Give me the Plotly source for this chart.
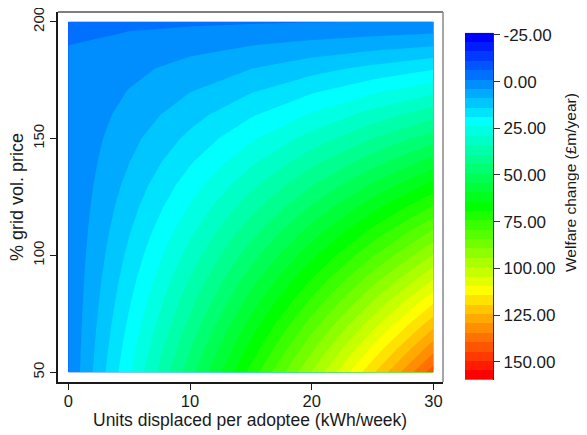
import colorsys
import plotly.graph_objects as go

# ---------------- data ----------------
units = [0, 5, 10, 15, 20, 25, 30]                      # kWh/week displaced per adoptee
price_pct = [50, 60, 70, 80, 90, 100, 110, 120, 130, 140, 150, 160, 170, 180, 190, 200]
# welfare change (£m/year); one row per price_pct value, one column per units value
welfare = [
    [-0.6, 23.3, 47.1, 71.0, 94.8, 118.7, 142.5],   # 50
    [-0.6, 21.7, 43.9, 66.2, 88.4, 110.7, 133.0],   # 60
    [-0.6, 20.1, 40.7, 61.4, 82.1, 102.8, 123.4],   # 70
    [-0.6, 18.5, 37.6, 56.6, 75.7, 94.8, 113.9],    # 80
    [-0.6, 16.9, 34.4, 51.9, 69.4, 86.9, 104.3],    # 90
    [-0.6, 15.3, 31.2, 47.1, 63.0, 78.9, 94.8],     # 100
    [-0.6, 13.7, 28.0, 42.3, 56.6, 71.0, 85.3],     # 110
    [-0.6, 12.1, 24.8, 37.6, 50.3, 63.0, 75.7],     # 120
    [-0.6, 10.5, 21.7, 32.8, 43.9, 55.1, 66.2],     # 130
    [-0.6, 8.9, 18.5, 28.0, 37.6, 47.1, 56.6],      # 140
    [-0.6, 7.4, 15.3, 23.3, 31.2, 39.2, 47.1],      # 150
    [-0.6, 5.8, 12.1, 18.5, 24.8, 31.2, 37.6],      # 160
    [-0.6, 4.2, 8.9, 13.7, 18.5, 23.3, 28.0],       # 170
    [-0.6, 2.6, 5.8, 8.9, 12.1, 15.3, 18.5],        # 180
    [-1.1, 0.6, 2.2, 3.8, 5.4, 7.0, 8.5],           # 190
    [-2.5, -2.2, -1.9, -1.6, -1.3, -1.0, -0.6],     # 200
]
z_low, z_high, n_bands = -26.2, 159.8, 37
cbar_ticks = [-25, 0, 25, 50, 75, 100, 125, 150]
x_ticks = [0, 10, 20, 30]
y_ticks = [50, 100, 150, 200]
x_title = "Units displaced per adoptee (kWh/week)"
y_title = "% grid vol. price"
cbar_title = "Welfare change (£m/year)"

# ---------------- styling ----------------
FONT = "Liberation Sans, Arial, sans-serif"
TXT = "#1a1a1a"
band = (z_high - z_low) / n_bands

def hue_color(i):
    h = (240 - i * 240 / (n_bands - 1)) / 360.0
    r, g, b = colorsys.hsv_to_rgb(h, 1, 1)
    return "rgb(%d,%d,%d)" % (round(r * 255), round(g * 255), round(b * 255))

colorscale = [[i / (n_bands - 1), hue_color(i)] for i in range(n_bands)]

fig = go.Figure()
fig.add_trace(go.Contour(
    x=units, y=price_pct, z=welfare,
    colorscale=colorscale, showscale=False,
    autocontour=False,
    contours=dict(start=z_low + band, end=z_high - band, size=band,
                  coloring="fill", showlines=False),
    line=dict(width=0, smoothing=0),
    hoverinfo="skip",
))

# colour key drawn as a narrow heatmap on its own (reversed) axis
mids = [z_low + (i + 0.5) * band for i in range(n_bands)]
fig.add_trace(go.Heatmap(
    x=[0], y=mids, z=[[m] for m in mids],
    colorscale=colorscale, zmin=mids[0], zmax=mids[-1],
    showscale=False, xaxis="x2", yaxis="y2", hoverinfo="skip",
))

# the page body adds an 8px offset; work in window pixels and convert
OFF = 8
W, H = 587 - OFF, 435 - OFF
ml, mr, mt, mb = 2, 2, 2, 2
pw, ph = W - ml - mr, H - mt - mb
px = lambda v: (v - OFF - ml) / pw
py = lambda v: (H - mb - (v - OFF)) / ph

TICK = 17
fig.update_layout(
    width=W, height=H,
    margin=dict(l=ml, r=mr, t=mt, b=mb, autoexpand=False),
    paper_bgcolor="white", plot_bgcolor="white",
    font=dict(family=FONT, size=TICK, color=TXT),
    showlegend=False,
    xaxis=dict(domain=[px(58), px(443)], range=[-0.85, 30.79], automargin=False,
               tickvals=x_ticks, ticks="outside", ticklen=6, tickwidth=1.2,
               tickcolor=TXT, showline=True, linecolor=TXT, linewidth=1.5,
               showgrid=False, zeroline=False, tickfont=dict(size=16.5),
               ticklabelstandoff=-3, ticklabeloverflow="allow"),
    yaxis=dict(domain=[py(382), py(12)], range=[45.85, 204.15], automargin=False,
               tickvals=y_ticks, ticks="outside", ticklen=6, tickwidth=1.2,
               tickcolor=TXT, showline=True, linecolor=TXT, linewidth=1.5,
               showgrid=False, zeroline=False, tickangle=-90,
               tickfont=dict(size=15), ticklabeloverflow="allow"),
    xaxis2=dict(domain=[px(465), px(493)], range=[-0.5, 0.5], anchor="y2",
                automargin=False,
                showticklabels=False, ticks="", showgrid=False, zeroline=False,
                showline=False),
    yaxis2=dict(domain=[py(380), py(32.7)], range=[z_high, z_low], anchor="x2",
                automargin=False, ticklabeloverflow="allow",
                side="right", tickvals=cbar_ticks,
                ticktext=["%.2f" % t for t in cbar_ticks],
                ticks="outside", ticklen=6, tickwidth=1.2, tickcolor="#333",
                showline=True, linecolor="#333", linewidth=1.2,
                showgrid=False, zeroline=False, tickfont=dict(size=TICK)),
    shapes=[
        dict(type="line", xref="paper", yref="paper", x0=px(58), x1=px(443),
             y0=py(12), y1=py(12), line=dict(color="#555", width=1.5)),
        dict(type="line", xref="paper", yref="paper", x0=px(443), x1=px(443),
             y0=py(12), y1=py(382), line=dict(color="#888", width=1.5)),
    ],
    annotations=[
        dict(text=x_title, xref="paper", yref="paper", x=px(250), y=py(419.5),
             xanchor="center", yanchor="middle", showarrow=False,
             font=dict(size=17.5)),
        dict(text=y_title, xref="paper", yref="paper", x=px(17), y=py(197),
             xanchor="center", yanchor="middle", showarrow=False,
             textangle=-90, font=dict(size=18)),
        dict(text=cbar_title, xref="paper", yref="paper", x=px(570), y=py(183),
             xanchor="center", yanchor="middle", showarrow=False,
             textangle=-90, font=dict(size=15.5)),
    ],
)

fig.write_html("out.html")
